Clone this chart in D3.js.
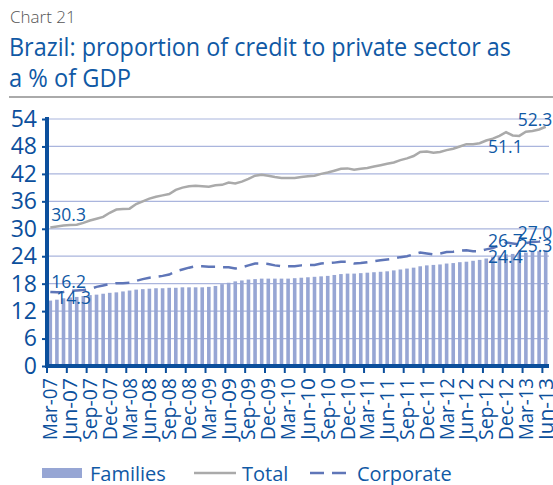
<!DOCTYPE html>
<html>
<head>
<meta charset="utf-8">
<script src="https://cdn.jsdelivr.net/npm/d3@7"></script>
<style>
  body { margin: 0; background: #fff; }
  text { font-family: "Open Sans", "Noto Sans", sans-serif; }
</style>
</head>
<body>
<div id="app"></div>
<script>
const width = 553
const height = 485

// monthly, Mar-07 .. Jun-13
const monthNames = ['Jan','Feb','Mar','Apr','May','Jun','Jul','Aug','Sep','Oct','Nov','Dec']
const months = d3.range(76).map(i => {
  const m = (2 + i) % 12
  const y = 7 + Math.floor((2 + i) / 12)
  return monthNames[m] + '-' + String(y).padStart(2, '0')
})

const families = [14.3,14.5,14.8,15.0,15.1,15.3,15.5,15.6,15.8,16.0,16.1,16.3,16.5,16.7,16.8,16.9,17.0,17.0,17.1,17.1,
  17.2,17.2,17.2,17.2,17.3,17.5,17.9,18.2,18.5,18.7,18.9,19.0,19.1,19.1,19.1,19.1,19.1,19.2,19.3,19.4,
  19.5,19.6,19.7,19.9,20.1,20.2,20.2,20.3,20.4,20.5,20.6,20.7,20.9,21.1,21.3,21.5,21.8,22.0,22.1,22.2,
  22.4,22.5,22.7,22.8,23.0,23.2,23.5,23.8,24.1,24.4,24.5,24.7,24.8,25.0,25.1,25.3]

const total = [30.3,30.5,30.7,30.8,30.9,31.3,31.8,32.2,32.6,33.5,34.2,34.3,34.4,35.4,36.0,36.6,37.0,37.3,37.6,38.5,
  39.0,39.3,39.4,39.3,39.2,39.5,39.6,40.1,39.9,40.3,40.9,41.6,41.8,41.6,41.3,41.1,41.1,41.1,41.3,41.5,
  41.6,42.0,42.3,42.7,43.1,43.2,42.9,43.1,43.3,43.6,43.9,44.2,44.5,45.0,45.4,45.9,46.8,46.9,46.6,46.8,
  47.2,47.5,48.0,48.5,48.5,48.7,49.3,49.7,50.3,51.1,50.4,50.3,51.2,51.4,51.7,52.3]

const corporate = [16.2,16.1,16.2,16.4,16.5,16.6,16.8,17.3,17.6,17.9,18.1,18.1,18.2,18.6,19.0,19.3,19.5,19.7,20.0,20.7,
  21.1,21.5,21.8,21.8,21.7,21.7,21.6,21.6,21.3,21.6,22.0,22.4,22.4,22.3,22.0,21.8,21.8,21.8,22.0,22.1,
  22.1,22.4,22.5,22.6,22.8,22.8,22.4,22.5,22.7,22.9,23.1,23.3,23.5,23.8,24.0,24.4,24.8,24.6,24.4,24.6,
  24.9,25.0,25.2,25.3,25.1,25.1,25.5,25.8,26.3,27.0,26.8,26.6,26.9,27.1,27.2,27.4]

const yTicks = [0, 6, 12, 18, 24, 30, 36, 42, 48, 54]

// data labels: [month index, series, text, dx, dy]
const labels = [
  [0, 'total', '30.3', 1, -6],
  [0, 'corporate', '16.2', 1, -4],
  [0, 'families', '14.3', 6, 3],
  [69, 'total', '51.1', -18, 21],
  [75, 'total', '52.3', -28, -1],
  [69, 'corporate', '26.7', -18, 4],
  [75, 'corporate', '27.0', -28, -2],
  [69, 'families', '24.4', -18, 9],
  [75, 'families', '25.3', -28, 2]
]

const blue = '#0b4f9c'
const textBlue = '#1059a5'
const barColor = '#97a6d4'
const gridColor = '#aab5dd'

const svg = d3.select('#app').append('svg')
  .attr('width', width)
  .attr('height', height)

// header
svg.append('text').attr('x', 10).attr('y', 23)
  .attr('fill', '#555').attr('font-size', 17).attr('font-weight', 300)
  .text('Chart 21')
svg.append('text').attr('x', 9).attr('y', 56)
  .attr('fill', textBlue).attr('font-size', 25.5)
  .attr('textLength', 502).attr('lengthAdjust', 'spacingAndGlyphs')
  .text('Brazil: proportion of credit to private sector as')
svg.append('text').attr('x', 9).attr('y', 87)
  .attr('fill', textBlue).attr('font-size', 25.5)
  .attr('textLength', 122).attr('lengthAdjust', 'spacingAndGlyphs')
  .text('a % of GDP')
svg.append('line').attr('x1', 9).attr('x2', 553).attr('y1', 97).attr('y2', 97)
  .attr('stroke', '#aaa').attr('stroke-width', 2)

const x = d3.scaleBand().domain(d3.range(months.length)).range([47, 549])
const y = d3.scaleLinear().domain([0, 54]).range([366, 119])
const cx = i => x(i) + x.bandwidth() / 2

// grid
svg.append('g').selectAll('line').data(yTicks.slice(1)).join('line')
  .attr('x1', 47).attr('x2', 549)
  .attr('y1', d => y(d)).attr('y2', d => y(d))
  .attr('stroke', gridColor).attr('stroke-width', 1.2)

// bars
svg.append('g').selectAll('rect').data(families).join('rect')
  .attr('x', (d, i) => cx(i) - 1.8)
  .attr('width', 3.6)
  .attr('y', d => y(d))
  .attr('height', d => y(0) - y(d))
  .attr('fill', barColor)

const line = d3.line().x((d, i) => cx(i)).y(d => y(d))

svg.append('path').datum(total)
  .attr('d', line).attr('fill', 'none')
  .attr('stroke', '#aaaaaa').attr('stroke-width', 2.5)

svg.append('path').datum(corporate)
  .attr('d', line).attr('fill', 'none')
  .attr('stroke', '#5f76b8').attr('stroke-width', 2.5)
  .attr('stroke-dasharray', '14,8')

// y axis
const yAxis = svg.append('g').attr('transform', 'translate(47,0)')
  .call(d3.axisLeft(y).tickValues(yTicks).tickSize(5).tickPadding(5))
yAxis.select('.domain').remove()
yAxis.selectAll('.tick line').attr('stroke', blue).attr('stroke-width', 2)
yAxis.selectAll('.tick text').attr('fill', blue).attr('font-size', 23)
  .attr('font-family', '"Open Sans", sans-serif')
svg.append('line').attr('x1', 47).attr('x2', 47).attr('y1', 117).attr('y2', 368)
  .attr('stroke', blue).attr('stroke-width', 4)

// x axis
const tickIdx = d3.range(0, months.length, 3)
const xAxisG = svg.append('g')
xAxisG.append('line').attr('x1', 45).attr('x2', 549).attr('y1', 366).attr('y2', 366)
  .attr('stroke', blue).attr('stroke-width', 4)
xAxisG.selectAll('.tk').data(tickIdx).join('line').attr('class', 'tk')
  .attr('x1', i => x(i)).attr('x2', i => x(i))
  .attr('y1', 366).attr('y2', 373)
  .attr('stroke', blue).attr('stroke-width', 2)
xAxisG.selectAll('text').data(tickIdx).join('text')
  .attr('transform', i => `translate(${cx(i) + 7},378) rotate(-90)`)
  .attr('text-anchor', 'end')
  .attr('fill', blue).attr('font-size', 20)
  .attr('textLength', 62).attr('lengthAdjust', 'spacingAndGlyphs')
  .text(i => months[i])

// data labels
const series = { total, corporate, families }
svg.append('g').selectAll('text').data(labels).join('text')
  .attr('x', d => cx(d[0]) + d[3])
  .attr('y', d => y(series[d[1]][d[0]]) + d[4])
  .attr('fill', textBlue).attr('font-size', 17.5)
  .text(d => d[2])

// legend
const lg = svg.append('g').attr('transform', 'translate(0,473)')
lg.append('rect').attr('x', 42).attr('y', -5).attr('width', 40).attr('height', 10).attr('fill', barColor)
lg.append('text').attr('x', 90).attr('y', 8).attr('fill', textBlue).attr('font-size', 20).text('Families')
lg.append('line').attr('x1', 194).attr('x2', 236).attr('y1', 0).attr('y2', 0)
  .attr('stroke', '#aaaaaa').attr('stroke-width', 2.5)
lg.append('text').attr('x', 242).attr('y', 8).attr('fill', textBlue).attr('font-size', 20).text('Total')
lg.append('line').attr('x1', 310).attr('x2', 352).attr('y1', 0).attr('y2', 0)
  .attr('stroke', '#5f76b8').attr('stroke-width', 2.5).attr('stroke-dasharray', '14,8')
lg.append('text').attr('x', 357).attr('y', 8).attr('fill', textBlue).attr('font-size', 20).text('Corporate')
</script>
</body>
</html>
